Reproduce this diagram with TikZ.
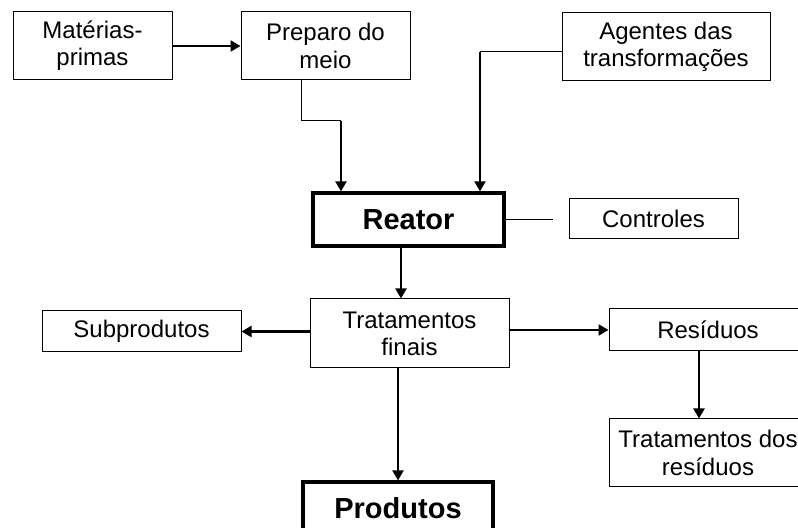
\documentclass[tikz,border=0pt]{standalone}
\usepackage{fontspec}
\setmainfont{Liberation Sans}
\usepackage{tikz}
\usetikzlibrary{arrows.meta,positioning,calc}

\begin{document}
\begin{tikzpicture}[x=0.5pt, y=-0.5pt, line width=0.5pt, arr/.style={line width=1.1pt,-{Triangle[length=5pt,width=5.5pt]}},
box/.style={rectangle,draw,align=center,inner sep=0pt,font=\fontsize{12}{13.6}\selectfont},
main box/.style={box,line width=1.6pt,font=\fontsize{14.5}{16}\selectfont\bfseries}]
\clip (0,0) rectangle (798,528);
\fill[white] (0,0) rectangle (798,528);
\begin{scope}
\node[box, minimum width=79.5pt, minimum height=34pt] (mp) at (92.5,46) {Matérias-\\primas};
\node[box, minimum width=84.5pt, minimum height=34pt] (pm) at (325.5,46) {Preparo do\\meio};
\node[box, minimum width=104pt, minimum height=34pt] (ag) at (666,47) {Agentes das\\transformações};
\node[main box, minimum width=95.5pt, minimum height=26.5pt] (re) at (408.5,219.5) {Reator};
\node[box, minimum width=84.5pt, minimum height=20pt] (co) at (653.5,219) {Controles};
\node[box, minimum width=99.5pt, minimum height=34.5pt] (tf) at (409.5,333.5) {Tratamentos\\finais};
\node[box, minimum width=99.5pt, minimum height=20.5pt] (sp) at (141.5,331.5) {Subprodutos};
\node[box, minimum width=99pt, minimum height=21pt] (rs) at (708,330) {Resíduos};
\node[box, minimum width=99pt, minimum height=34pt] (tr) at (708,453) {Tratamentos dos\\resíduos};
\node[main box, minimum width=95pt, minimum height=26.5pt] (pr) at (398,508.5) {Produtos};
\end{scope}
\begin{scope}
\coordinate (c1) at (341,121);
\coordinate (c2) at (480,52);
\coordinate (c3) at (553,220);
\draw (pm.south -| 301,0) |- (c1);
\draw[arr] (c1) -- (re.north -| c1);
\draw (ag.west |- c2) -- (c2);
\draw[arr] (c2) -- (re.north -| c2);
\draw (re.east |- c3) -- (c3); % sem seta
\draw[arr] (mp) -- (pm);
\draw[arr] (re.south -| 401,0) -- (tf.north -| 401,0);
\draw[arr] (tf.west |- sp.east) -- (sp.east);
\draw[arr] (tf.east |- rs.west) -- (rs.west);
\draw[arr] (rs.south -| 699,0) -- (tr.north -| 699,0);
\draw[arr] (tf.south -| pr.north) -- (pr.north);
\end{scope}
\end{tikzpicture}
\end{document}
